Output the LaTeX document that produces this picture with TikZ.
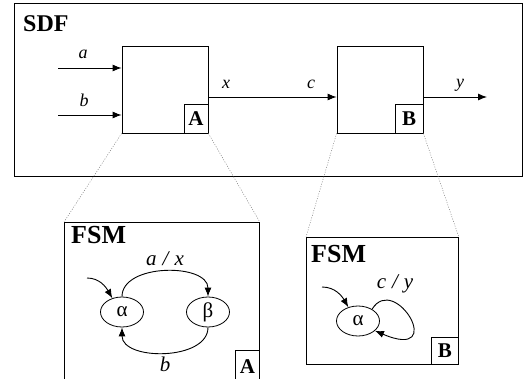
\documentclass[tikz,border=0pt]{standalone}
\usepackage{fontspec}
\setmainfont{Liberation Serif}
\usetikzlibrary{shapes.geometric,positioning,arrows.meta}

\tikzset{
  frame/.style={draw, line width=0.8pt, inner sep=0pt, anchor=north west},
  block/.style={draw, line width=0.8pt, minimum width=86pt, minimum height=87pt, inner sep=0pt},
  tag/.style={draw, line width=0.8pt, minimum width=24pt, minimum height=29pt, inner sep=0pt,
    anchor=south east, font=\fontsize{21}{21}\selectfont\bfseries},
  title/.style={anchor=north west, inner sep=0pt, font=\fontsize{24}{24}\selectfont\bfseries},
  sig/.style={inner sep=0pt, font=\fontsize{18}{18}\selectfont\itshape},
  trans/.style={inner sep=0pt, font=\fontsize{21}{21}\selectfont\itshape},
  state/.style={draw, ellipse, line width=0.8pt, minimum width=43pt, minimum height=30pt,
    inner sep=0pt, font=\fontsize{21}{21}\selectfont},
  arr/.style={-{Latex[length=9pt,width=7pt]}, line width=0.9pt},
  zoomline/.style={gray, line width=0.5pt, dash pattern=on 1pt off 1.5pt},
}

\begin{document}
\begin{tikzpicture}[x=1pt, y=-1pt]
  \clip (0,0) rectangle (526,379);

  % SDF level
  \node[frame, minimum width=508pt, minimum height=173pt] (sdf) at (14,3) {};
  \node[title] (sdftitle) at (23,15) {SDF};
  \node[block] (A) at (165,89.5) {};
  \node[block] (B) at (380,89.5) {};
  \node[tag] (tagA) at (A.south east) {A};
  \node[tag, minimum width=28pt] (tagB) at (B.south east) {B};

  \coordinate (ina) at (58,68);
  \coordinate (inb) at (58,115);
  \coordinate (outy) at (487,97);
  \draw[arr] (ina) -- (ina -| A.west);
  \draw[arr] (inb) -- (inb -| A.west);
  \draw[arr] ([yshift=-7.5pt]A.east) -- ([yshift=-7.5pt]B.west);
  \draw[arr] ([yshift=-7.5pt]B.east) -- (outy);

  \node[sig] (la) at (83,54) {a};
  \node[sig] (lb) at (84,100) {b};
  \node[sig] (lx) at (226,84) {x};
  \node[sig] (lc) at (311,84) {c};
  \node[sig] (ly) at (460,85) {y};

  % FSM inside A
  \node[frame, minimum width=195pt, minimum height=160pt] (fsmA) at (64,222) {};
  \node[title, font=\fontsize{26}{26}\selectfont\bfseries] (fsmAtitle) at (71,226) {FSM};
  \node[tag, minimum height=32pt] (tagA2) at (fsmA.south east) {A};
  \node[state] (alphaA) at (122,312) {α};
  \node[state] (betaA) at (208,312) {β};
  \coordinate (initA) at (87,278);
  \draw[arr] (initA) to[out=0, in=120] (alphaA.125);
  \draw[arr] (alphaA.north) to[out=90, in=90]
    node[trans, above=5pt] {a\hspace{6pt}/\hspace{6pt}x} (betaA.north);
  \draw[arr] (betaA.south) to[out=-90, in=-90]
    node[trans, below=4pt] {b} (alphaA.south);

  % FSM inside B
  \node[frame, minimum width=152pt, minimum height=127pt] (fsmB) at (306,237) {};
  \node[title, font=\fontsize{26}{26}\selectfont\bfseries] (fsmBtitle) at (311,245) {FSM};
  \node[tag, minimum width=27pt, minimum height=27pt] (tagB2) at (fsmB.south east) {B};
  \node[state] (alphaB) at (358,321) {α};
  \coordinate (initB) at (322,287);
  \draw[arr] (initB) to[out=0, in=120] (alphaB.125);
  \draw[arr] (alphaB.40) .. controls (395,272) and (448,362) .. (alphaB.-30);
  \node[trans] (lcy) at (395,284) {c\hspace{6pt}/\hspace{6pt}y};

  % zoom lines
  \draw[zoomline] (A.south west) -- (fsmA.north west);
  \draw[zoomline] (A.south east) -- (fsmA.north east);
  \draw[zoomline] (B.south west) -- (fsmB.north west);
  \draw[zoomline] (B.south east) -- (fsmB.north east);
\end{tikzpicture}
\end{document}
